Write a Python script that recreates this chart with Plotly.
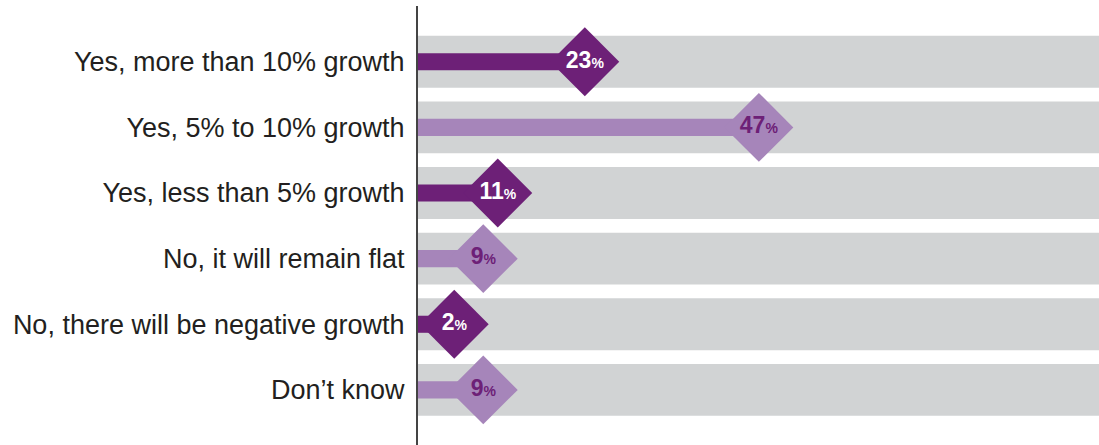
import plotly.graph_objects as go

categories = [
    "Yes, more than 10% growth",
    "Yes, 5% to 10% growth",
    "Yes, less than 5% growth",
    "No, it will remain flat",
    "No, there will be negative growth",
    "Don\u2019t know",
]
values = [23, 47, 11, 9, 2, 9]
track_max = 100

DARK = "#6D2077"
LIGHT = "#A685BA"
GRAY = "#D1D3D4"
bar_colors = [DARK, LIGHT, DARK, LIGHT, DARK, LIGHT]
text_colors = ["white", DARK, "white", DARK, "white", DARK]
MIN_DIAMOND = 5  # keep diamonds clear of the axis line

fig = go.Figure()

# gray tracks
fig.add_trace(go.Bar(
    y=categories, x=[track_max] * len(categories), orientation="h",
    marker=dict(color=GRAY, line=dict(width=0)), width=0.79,
    hoverinfo="skip", showlegend=False,
))
# value bars
fig.add_trace(go.Bar(
    y=categories, x=values, orientation="h",
    marker=dict(color=bar_colors, line=dict(width=0)), width=0.26,
    hoverinfo="skip", showlegend=False,
))
# diamonds with labels
labels = [
    f"<b>{v}</b><b><span style='font-size:14px'>%</span></b>" for v in values
]
fig.add_trace(go.Scatter(
    y=categories, x=[max(v, MIN_DIAMOND) for v in values],
    mode="markers+text",
    marker=dict(symbol="diamond", size=53, color=bar_colors, line=dict(width=0)),
    text=labels, textposition="middle center",
    textfont=dict(family="Liberation Sans, Arial, sans-serif", size=23, color=text_colors),
    hoverinfo="skip", showlegend=False, cliponaxis=False,
))

fig.update_layout(
    width=1099, height=445,
    margin=dict(l=418, r=0, t=6, b=0),
    paper_bgcolor="white", plot_bgcolor="white",
    barmode="overlay",
    font=dict(family="Liberation Sans, Arial, sans-serif", color="#231F20"),
    xaxis=dict(range=[0, 93.9], visible=False, showgrid=False, zeroline=False, fixedrange=True),
    yaxis=dict(
        range=[5.84, -0.85], showgrid=False, zeroline=False,
        showline=True, linecolor="#444444", linewidth=2,
        tickfont=dict(size=27, color="#231F20"),
        ticks="", ticklabelstandoff=6, fixedrange=True,
    ),
)

fig.write_html(
    "out.html",
    config={"displayModeBar": False, "staticPlot": True},
    post_script="document.body.style.margin='0';document.body.style.overflow='hidden';",
)
